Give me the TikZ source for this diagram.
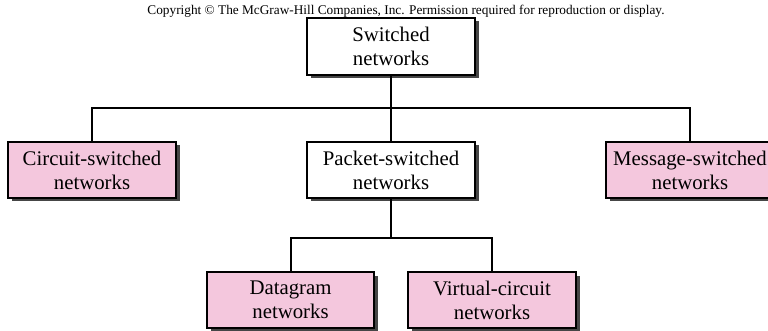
\documentclass[tikz,border=0pt]{standalone}
\usepackage{fontspec}
\setmainfont{Liberation Serif}
\usetikzlibrary{shadows}
\definecolor{boxpink}{RGB}{244,199,221}
\definecolor{shadowgray}{RGB}{70,70,70}
\tikzset{
  netbox/.style={draw=black, line width=1.8pt, minimum width=168pt, minimum height=56pt,
    align=center, inner sep=0pt, font=\fontsize{20.8pt}{24pt}\selectfont,
    drop shadow={shadow xshift=3.5pt, shadow yshift=-3.5pt, fill=shadowgray, opacity=1}},
  pinkbox/.style={netbox, fill=boxpink},
  whitebox/.style={netbox, fill=white},
  link/.style={draw=black, line width=2pt}
}
\begin{document}
\begin{tikzpicture}[x=1pt,y=-1pt]
\clip (0,0) rectangle (768,331);
\fill[white] (0,0) rectangle (768,331);
\node[font=\fontsize{13.3pt}{15pt}\selectfont, inner sep=0pt] (copy) at (406,11) {Copyright \textcopyright{} The McGraw-Hill Companies, Inc. Permission required for reproduction or display.};
\node[whitebox, minimum height=57pt] (sw) at (391,46.5) {Switched\\networks};
\node[pinkbox] (cs) at (92,170) {Circuit-switched\\networks};
\node[whitebox] (ps) at (391,170) {Packet-switched\\networks};
\node[pinkbox] (ms) at (690,170) {Message-switched\\networks};
\node[pinkbox, minimum width=167pt] (dg) at (290.5,300) {Datagram\\networks};
\node[pinkbox] (vc) at (492,300) {Virtual-circuit\\networks};
\coordinate (j1) at (391,108);
\coordinate (j2) at (391,238);
\draw[link] (sw.south) -- (j1);
\draw[link] (cs.north) |- (j1) -| (ms.north);
\draw[link] (j1) -- (ps.north);
\draw[link] (ps.south) -- (j2);
\draw[link] (dg.north) |- (j2) -| (vc.north);
\end{tikzpicture}
\end{document}
